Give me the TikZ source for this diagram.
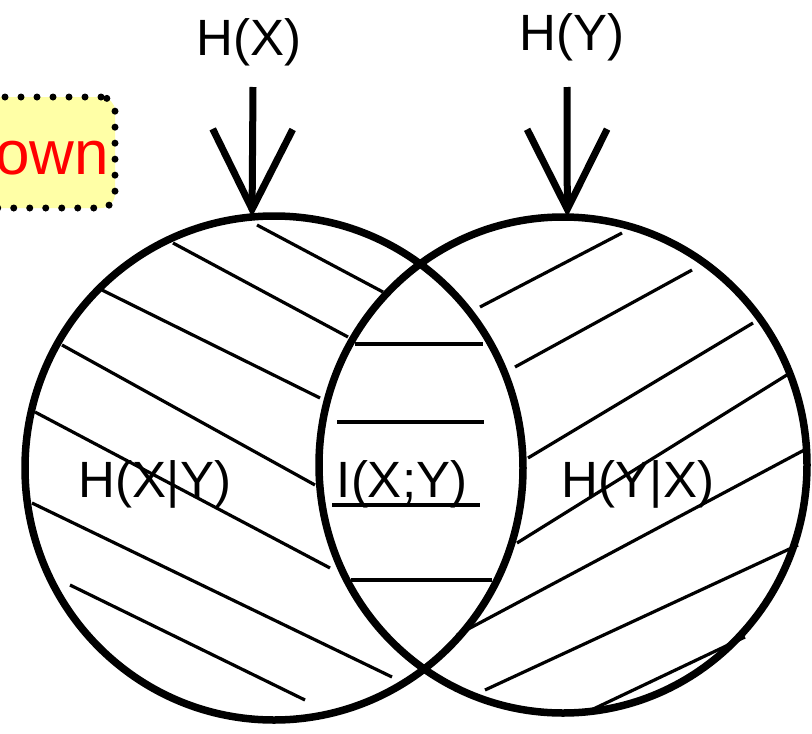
\documentclass[tikz,border=0pt]{standalone}
\usepackage{fontspec}
\setmainfont{Liberation Sans}
\usetikzlibrary{shapes.geometric,arrows.meta}
\definecolor{noteyellow}{RGB}{255,255,166}
\definecolor{notered}{RGB}{255,0,0}
\begin{document}
\begin{tikzpicture}[x=1pt,y=-1pt,
  set/.style={draw, ellipse, line width=7.5pt, inner sep=0pt, outer sep=0pt},
  hatch/.style={line width=3.2pt},
  pointer/.style={line width=7pt, -{Straight Barb[length=80pt,width=80pt]}},
  lbl/.style={font=\fontsize{51}{60}\selectfont, inner sep=0pt, anchor=base},
  note/.style={draw, fill=noteyellow, line width=7pt, dash pattern=on 0pt off 16pt,
    line cap=round, rounded corners=14pt, outer sep=0pt, text=notered,
    font=\fontsize{62}{66}\selectfont, text height=43pt, text depth=0pt,
    minimum height=111pt, inner xsep=6pt, inner ysep=0pt},
]
\fill[white] (0,0) rectangle (812,734);
\useasboundingbox (0,0) rectangle (812,734);
\clip (0,0) rectangle (812,734);

% note box, running off the left edge
\node[note, anchor=east] (note) at (115,152.5) {nown};

% the two sets
\node[set, minimum width=498pt, minimum height=504pt] (cx) at (274,468) {};
\node[set, minimum width=488pt, minimum height=496pt] (cy) at (563,465) {};

% hatching of H(X|Y)
\draw[hatch] (257,225) -- (383,292);
\draw[hatch] (173,243) -- (348,337);
\draw[hatch] (102,290) -- (320,398);
\draw[hatch] (62,345) -- (315,485);
\draw[hatch] (35,412) -- (330,568);
\draw[hatch] (32,503) -- (392,677);
\draw[hatch] (70,585) -- (305,700);

% hatching of I(X;Y)
\draw[hatch] (355,344) -- (483,344);
\draw[hatch] (337,422) -- (484,422);
\draw[hatch] (332,505) -- (480,505);
\draw[hatch] (351,580) -- (492,580);

% hatching of H(Y|X)
\draw[hatch] (480,307) -- (622,233);
\draw[hatch] (515,367) -- (692,270);
\draw[hatch] (528,458) -- (753,323);
\draw[hatch] (517,543) -- (790,373);
\draw[hatch] (457,635) -- (808,448);
\draw[hatch] (485,690) -- (798,545);
\draw[hatch] (587,712) -- (745,637);

% labels
\node[lbl] (hx) at (249,55) {H(X)};
\node[lbl] (hy) at (572,50) {H(Y)};
\node[lbl] (hxy) at (155,497) {H(X|Y)};
\node[lbl] (ixy) at (402,497) {I(X;Y)};
\node[lbl] (hyx) at (638,497) {H(Y|X)};

% pointers from the entropy labels to their sets
\coordinate (hxtail) at (253,87);
\coordinate (hytail) at (567,87);
\draw[pointer] (hxtail) -- (cx.95);
\draw[pointer] (hytail) -- (cy.89);
\end{tikzpicture}
\end{document}
